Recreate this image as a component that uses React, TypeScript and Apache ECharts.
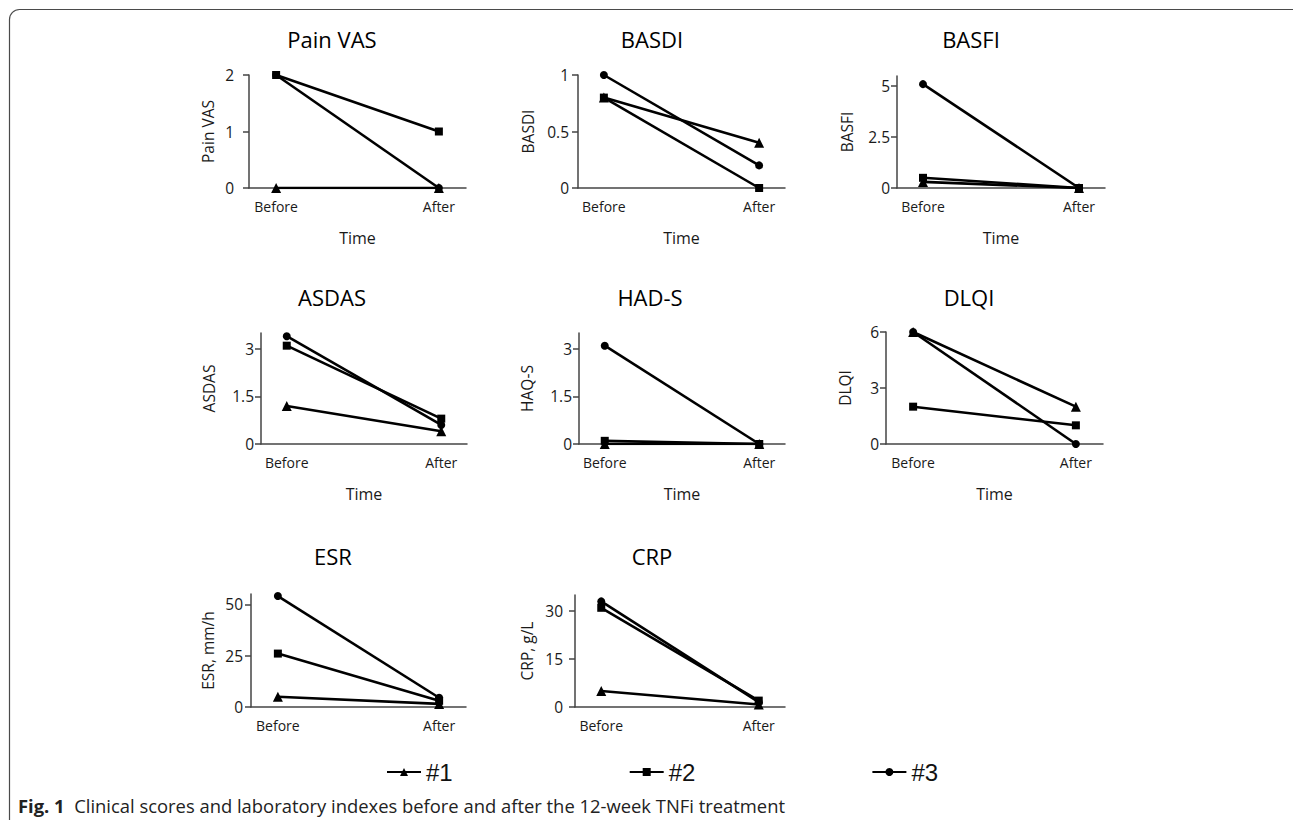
import React, { useEffect, useRef } from 'react';
import * as echarts from 'echarts';

// ---------- data ----------
const TIME = ['Before', 'After'];
const PATIENTS = ['#1', '#2', '#3'];
const SYMBOLS = ['triangle', 'rect', 'circle'];

// values per patient: [before, after]
const PAIN_VAS = [[0, 0], [2, 1], [2, 0]];
const BASDI = [[0.8, 0.4], [0.8, 0], [1, 0.2]];
const BASFI = [[0.3, 0], [0.5, 0], [5.1, 0]];
const ASDAS = [[1.2, 0.4], [3.1, 0.8], [3.4, 0.6]];
const HAQ_S = [[0, 0], [0.1, 0], [3.1, 0]];
const DLQI = [[6, 2], [2, 1], [6, 0]];
const ESR = [[5, 1.5], [26, 3], [54, 4.5]];
const CRP = [[5, 0.8], [31, 2], [33, 1.5]];

// y tick labels
const PAIN_VAS_TICKS = [0, 1, 2];
const BASDI_TICKS = [0, 0.5, 1];
const BASFI_TICKS = [0, 2.5, 5];
const ASDAS_TICKS = [0, 1.5, 3];
const HAQ_S_TICKS = [0, 1.5, 3];
const DLQI_TICKS = [0, 3, 6];
const ESR_TICKS = [0, 25, 50];
const CRP_TICKS = [0, 15, 30];

const PANELS = [
  { title: 'Pain VAS', yName: 'Pain VAS', values: PAIN_VAS, ticks: PAIN_VAS_TICKS, max: 2, time: true },
  { title: 'BASDI', yName: 'BASDI', values: BASDI, ticks: BASDI_TICKS, max: 1, time: true },
  { title: 'BASFI', yName: 'BASFI', values: BASFI, ticks: BASFI_TICKS, max: 5.5, time: true },
  { title: 'ASDAS', yName: 'ASDAS', values: ASDAS, ticks: ASDAS_TICKS, max: 3.5, time: true },
  { title: 'HAD-S', yName: 'HAQ-S', values: HAQ_S, ticks: HAQ_S_TICKS, max: 3.5, time: true },
  { title: 'DLQI', yName: 'DLQI', values: DLQI, ticks: DLQI_TICKS, max: 6, time: true },
  { title: 'ESR', yName: 'ESR, mm/h', values: ESR, ticks: ESR_TICKS, max: 55, time: false },
  { title: 'CRP', yName: 'CRP, g/L', values: CRP, ticks: CRP_TICKS, max: 35, time: false },
];

// ---------- layout (pixels) ----------
const LAYOUT = [
  { x0: 249, x1: 466, y0: 75, y1: 188, tx: 332, ty: 39, lm: 15, nd: 41 },
  { x0: 578, x1: 785, y0: 75, y1: 188, tx: 652, ty: 39, lm: 9, nd: 50 },
  { x0: 897, x1: 1105, y0: 76, y1: 188, tx: 971, ty: 39, lm: 7, nd: 50 },
  { x0: 261, x1: 467, y0: 333, y1: 444, tx: 332, ty: 297, lm: 7, nd: 52 },
  { x0: 579, x1: 785, y0: 333, y1: 444, tx: 650, ty: 297, lm: 7, nd: 52 },
  { x0: 886, x1: 1103, y0: 332, y1: 444, tx: 969, ty: 297, lm: 7, nd: 41 },
  { x0: 251, x1: 466, y0: 594, y1: 707, tx: 333, ty: 556, lm: 8, nd: 43 },
  { x0: 575, x1: 785, y0: 595, y1: 707, tx: 652, ty: 556, lm: 12, nd: 48 },
];
const SLOTS = [1, 7]; // x-axis domain positions of Before / After (axis spans 0..8)
const SYMBOL_SIZES = [10, 8, 8];

const FONT = '"Open Sans", sans-serif';
const NARROW = '"Liberation Sans Narrow", "Liberation Sans", sans-serif';
const AXIS_COLOR = '#454545';
const TEXT_COLOR = '#1a1a1a';

export default function App() {
  const ref = useRef<HTMLDivElement>(null);

  useEffect(() => {
    if (!ref.current) return;
    const chart = echarts.init(ref.current, null, { renderer: 'svg' });

    const grid: any[] = [];
    const xAxis: any[] = [];
    const yAxis: any[] = [];
    const series: any[] = [];
    const graphic: any[] = [];

    PANELS.forEach((p, i) => {
      const L = LAYOUT[i];
      grid.push({ left: L.x0, top: L.y0, width: L.x1 - L.x0, height: L.y1 - L.y0 });
      xAxis.push({
        gridIndex: i,
        type: 'value',
        min: 0,
        max: 8,
        splitLine: { show: false },
        axisTick: { show: false },
        axisLine: { show: true, onZero: false, lineStyle: { color: AXIS_COLOR, width: 1.5 } },
        axisLabel: {
          customValues: SLOTS,
          formatter: (v: number) => {
            const k = SLOTS.indexOf(v);
            return k >= 0 ? TIME[k] : '';
          },
          margin: 11,
          fontFamily: FONT,
          fontSize: 14,
          color: TEXT_COLOR,
        },
        name: p.time ? 'Time' : '',
        nameLocation: 'middle',
        nameGap: 42,
        nameTextStyle: { fontFamily: FONT, fontSize: 16, color: TEXT_COLOR },
      });
      yAxis.push({
        gridIndex: i,
        type: 'value',
        min: 0,
        max: p.max,
        splitLine: { show: false },
        axisLine: { show: true, onZero: false, lineStyle: { color: AXIS_COLOR, width: 1.5 } },
        axisTick: { show: true, customValues: p.ticks, length: 6, lineStyle: { color: AXIS_COLOR, width: 1.5 } },
        axisLabel: {
          customValues: p.ticks,
          formatter: (v: number) => String(v),
          margin: L.lm,
          fontFamily: FONT,
          fontSize: 15.5,
          color: TEXT_COLOR,
        },
        name: p.yName,
        nameLocation: 'middle',
        nameGap: L.nd - 8,
        nameTextStyle: { fontFamily: FONT, fontSize: 15.5, color: TEXT_COLOR },
      });
      PATIENTS.forEach((name, k) => {
        series.push({
          type: 'line',
          name,
          xAxisIndex: i,
          yAxisIndex: i,
          data: p.values[k].map((v, t) => [SLOTS[t], v]),
          symbol: SYMBOLS[k],
          symbolSize: SYMBOL_SIZES[k],
          showAllSymbol: true,
          lineStyle: { color: '#000', width: 2.6 },
          itemStyle: { color: '#000' },
          emphasis: { disabled: true },
        });
      });
      graphic.push({
        type: 'text',
        x: L.tx,
        y: L.ty,
        style: {
          text: p.title,
          fontFamily: FONT,
          fontSize: 22,
          fill: '#000',
          textAlign: 'center',
          textVerticalAlign: 'middle',
        },
      });
    });

    // figure frame
    graphic.push({
      type: 'rect',
      shape: { x: 9.5, y: 9.5, width: 1300, height: 900, r: 10 },
      style: { fill: 'none', stroke: '#4a4a4a', lineWidth: 1.2 },
      silent: true,
    });
    // caption
    graphic.push({
      type: 'text',
      x: 18,
      y: 805,
      style: {
        text: '{b|Fig. 1}  Clinical scores and laboratory indexes before and after the 12-week TNFi treatment',
        fontFamily: FONT,
        fontSize: 18.4,
        fill: '#222',
        textVerticalAlign: 'middle',
        rich: { b: { fontFamily: FONT, fontSize: 18.4, fontWeight: 'bold', fill: '#222' } },
      },
    });

    chart.setOption({
      animation: false,
      backgroundColor: '#fff',
      grid,
      xAxis,
      yAxis,
      series,
      graphic,
      legend: {
        data: PATIENTS,
        left: 386,
        top: 760,
        padding: 0,
        itemWidth: 34,
        itemHeight: 10,
        itemGap: 176,
        selectedMode: false,
        textStyle: { fontFamily: NARROW, fontSize: 24, color: '#111' },
      },
    });

    return () => chart.dispose();
  }, []);

  return (
    <div
      ref={ref}
      style={{ position: 'absolute', left: 0, top: 0, width: 1293, height: 820 }}
    />
  );
}
